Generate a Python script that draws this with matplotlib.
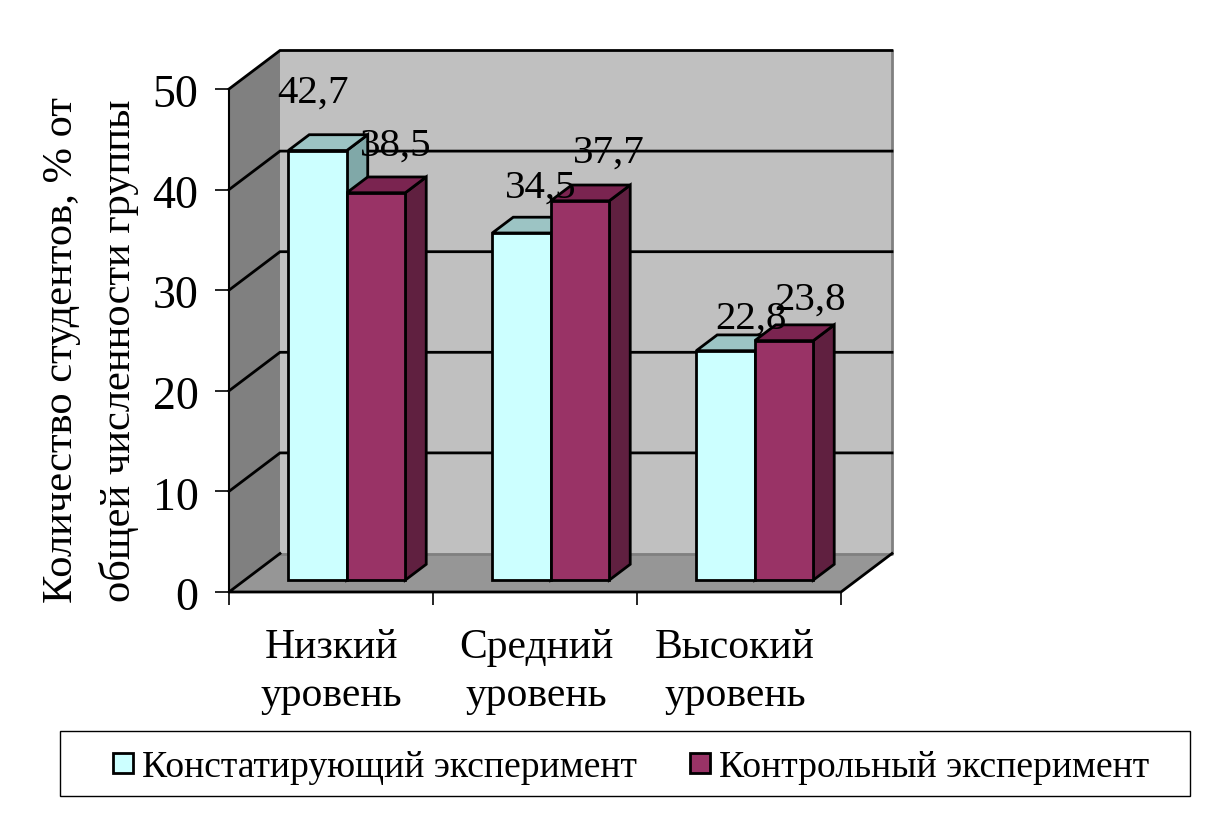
import matplotlib
matplotlib.use("Agg")
import matplotlib.pyplot as plt
from matplotlib.patches import Polygon, Rectangle
from matplotlib.transforms import ScaledTranslation

plt.rcParams['font.family'] = ['Liberation Serif', 'DejaVu Serif']

categories = ["Низкий\nуровень", "Средний\nуровень", "Высокий\nуровень"]
series_names = ["Констатирующий эксперимент", "Контрольный эксперимент"]
ascertaining = [42.7, 34.5, 22.8]
control = [38.5, 37.7, 23.8]
value_labels_a = ["42,7", "34,5", "22,8"]
value_labels_c = ["38,5", "37,7", "23,8"]
y_ticks = [0, 10, 20, 30, 40, 50]

W, H = 1222, 816
fig = plt.figure(figsize=(W / 100, H / 100), dpi=100, facecolor="white")
L, R, T, B = 229, 841, 89, 592
ax = fig.add_axes([L / W, 1 - B / H, (R - L) / W, (B - T) / H])
ax.set_xlim(0, 3)
ax.set_ylim(0, 50)
ax.patch.set_visible(False)
for s in ax.spines.values():
    s.set_visible(False)

DX = 51 / 204      # depth offset, category units
DY = 38.5 / 10.06  # depth offset, value units


def P(x, y, d=0.0):
    return (x + d * DX, y + d * DY)


def face(pts, fc, lw=2.0, z=2, ec="black"):
    ax.add_patch(Polygon(pts, closed=True, fc=fc, ec=ec, lw=lw, zorder=z, clip_on=False,
                         joinstyle="miter"))


# walls
face([P(0, 0, 1), P(3, 0, 1), P(3, 50, 1), P(0, 50, 1)], "#c0c0c0", lw=0, z=1, ec="none")
face([P(0, 0), P(0, 0, 1), P(0, 50, 1), P(0, 50)], "#808080", lw=0, z=1, ec="none")
face([P(0, 0), P(3, 0), P(3, 0, 1), P(0, 0, 1)], "#969696", lw=0, z=1, ec="none")

# gridlines
for v in y_ticks[1:]:
    ax.plot(*zip(P(0, v), P(0, v, 1), P(3, v, 1)), color="black", lw=2, zorder=1.5, clip_on=False,
            solid_joinstyle="miter")
ax.plot(*zip(P(0, 0, 1), P(3, 0, 1), P(3, 50, 1)), color="#808080", lw=2, zorder=1.4, clip_on=False)
ax.plot(*zip(P(0, 0, 1), P(0, 0), P(3, 0), P(3, 0, 1)), color="black", lw=2, zorder=1.6, clip_on=False)
ax.plot(*zip(P(0, 0), P(0, 50)), color="black", lw=1.5, zorder=1.6, clip_on=False)

# bars
bw = 58.5 / 204
d0, d1 = 0.31, 0.72
colors = [("#ccffff", "#80a8a8", "#9cc4c4"), ("#993366", "#602040", "#7a2450")]
for i in range(3):
    for j, vals in enumerate((ascertaining, control)):
        v = vals[i]
        x0 = i + 0.5 - bw + j * bw
        x1 = x0 + bw
        front, side, top = colors[j]
        z = 3 + j * 0.5
        face([P(x1, 0, d0), P(x1, 0, d1), P(x1, v, d1), P(x1, v, d0)], side, z=z)
        face([P(x0, v, d0), P(x1, v, d0), P(x1, v, d1), P(x0, v, d1)], top, z=z)
        face([P(x0, 0, d0), P(x1, 0, d0), P(x1, v, d0), P(x0, v, d0)], front, z=z + 0.1)

# value labels: pixel offsets of each label from the bar's top centre
offsets_a = [(11, 69), (35, 57), (41, 43)]
offsets_c = [(36, 59), (45, 60), (42, 52)]
for i in range(3):
    for j, (vals, labs, offs) in enumerate(((ascertaining, value_labels_a, offsets_a),
                                            (control, value_labels_c, offsets_c))):
        x = i + 0.5 - bw / 2 + j * bw
        dx, dy = offs[i]
        ax.annotate(labs[i], xy=(x, vals[i]), xytext=(dx * 0.72, dy * 0.72), textcoords="offset points",
                    ha="center", va="center", fontsize=29.5, color="black", zorder=6,
                    annotation_clip=False)

# axes ticks
ax.set_xticks([0, 1, 2, 3])
ax.set_xticklabels([])
ax.set_yticks(y_ticks)
ax.tick_params(axis="y", labelsize=33, length=10, width=1.2, pad=12)
ax.tick_params(axis="x", length=9, width=1.2)
shift = ScaledTranslation(0, -2 / 100, fig.dpi_scale_trans)
for lab in ax.get_yticklabels():
    lab.set_transform(lab.get_transform() + shift)
cat_nudge = [0, 1, -4]
for i, c in enumerate(categories):
    ax.annotate(c, xy=(i + 0.5, 0), xytext=(cat_nudge[i] * 0.72, -80 * 0.72), textcoords="offset points",
                ha="center", va="center", fontsize=30, linespacing=1.32, annotation_clip=False)

ax.text(-0.68, 24, "Количество студентов, % от\nобщей численности группы", rotation=90,
        ha="center", va="center", fontsize=30.6, linespacing=1.58, clip_on=False)

# legend box drawn in figure pixels
fig.add_artist(Rectangle((60 / W, 1 - 796 / H), 1130 / W, 65 / H, transform=fig.transFigure,
                         fc="white", ec="black", lw=1))
for px, col, name in [(113, colors[0][0], series_names[0]), (690, colors[1][0], series_names[1])]:
    fig.add_artist(Rectangle((px / W, 1 - 773 / H), 20 / W, 20 / H, transform=fig.transFigure,
                             fc=col, ec="black", lw=2))
    fig.text((px + 29) / W, 1 - 768 / H, name, ha="left", va="center", fontsize=27.1)

fig.savefig("out.png", dpi=100)
